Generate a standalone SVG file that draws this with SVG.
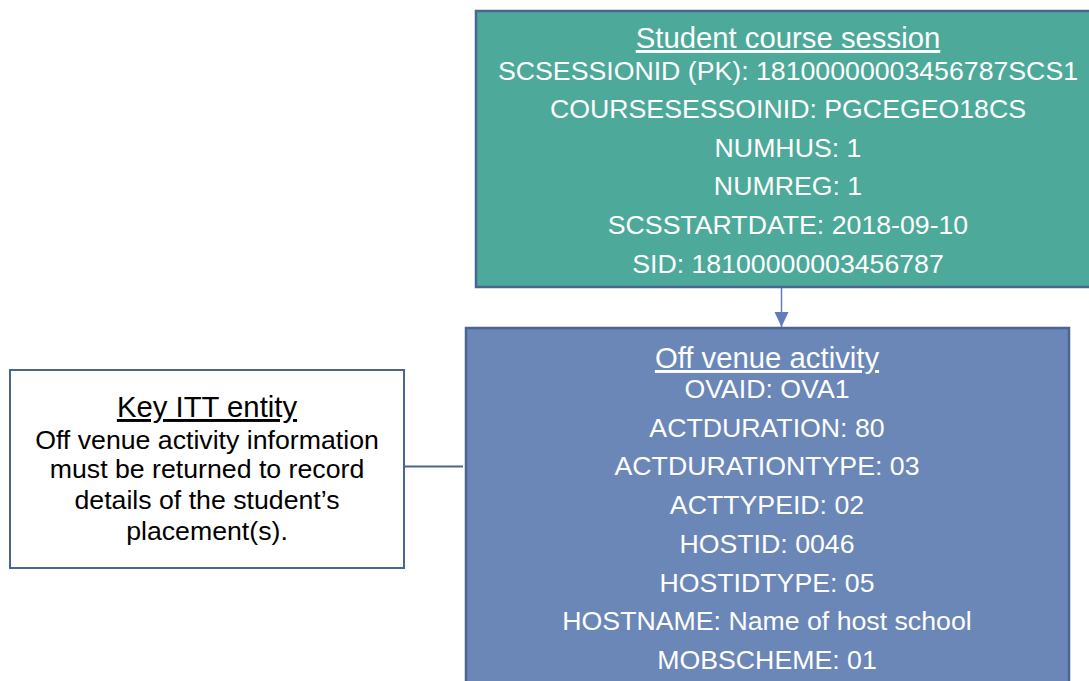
<svg xmlns="http://www.w3.org/2000/svg" width="1089" height="681" viewBox="0 0 1089 681">
<style>
text{font-family:"Liberation Sans",Arial,sans-serif;text-anchor:middle}
.t{font-size:29.3px;text-decoration:underline}
.b{font-size:26.7px}
.w{fill:#ffffff}
.k{fill:#000000}
</style>
<defs>
<marker id="ah" markerWidth="16" markerHeight="16" refX="15" refY="7" orient="auto" markerUnits="userSpaceOnUse">
<path d="M0,0 L15,7 L0,14 Z" fill="#5F7DB8"/>
</marker>
</defs>
<rect width="1089" height="681" fill="#ffffff"/>
<g id="connectors">
<line x1="781.5" y1="288" x2="781.5" y2="327" stroke="#5F7DB8" stroke-width="1.5" marker-end="url(#ah)"/>
<line x1="405" y1="466.5" x2="463" y2="466.5" stroke="#4A6590" stroke-width="2"/>
</g>
<g id="student-course-session">
<rect x="476" y="11" width="624" height="276" fill="#4DA99A" stroke="#4A6590" stroke-width="2.5"/>
<text class="t w" x="788" y="48">Student course session</text>
<text class="b w" x="788" y="80">SCSESSIONID (PK): 18100000003456787SCS1</text>
<text class="b w" x="788" y="118">COURSESESSOINID: PGCEGEO18CS</text>
<text class="b w" x="788" y="157">NUMHUS: 1</text>
<text class="b w" x="788" y="195">NUMREG: 1</text>
<text class="b w" x="788" y="234">SCSSTARTDATE: 2018-09-10</text>
<text class="b w" x="788" y="273">SID: 18100000003456787</text>
</g>
<g id="off-venue-activity">
<rect x="466" y="328" width="603" height="370" fill="#6A87B8" stroke="#4A6590" stroke-width="2.5"/>
<text class="t w" x="767" y="368">Off venue activity</text>
<text class="b w" x="767" y="398">OVAID: OVA1</text>
<text class="b w" x="767" y="437">ACTDURATION: 80</text>
<text class="b w" x="767" y="475">ACTDURATIONTYPE: 03</text>
<text class="b w" x="767" y="514">ACTTYPEID: 02</text>
<text class="b w" x="767" y="553">HOSTID: 0046</text>
<text class="b w" x="767" y="592">HOSTIDTYPE: 05</text>
<text class="b w" x="767" y="630">HOSTNAME: Name of host school</text>
<text class="b w" x="767" y="669">MOBSCHEME: 01</text>
</g>
<g id="key-itt-entity">
<rect x="10" y="370" width="394" height="198" fill="#ffffff" stroke="#4A6590" stroke-width="2"/>
<text class="t k" x="207" y="417">Key ITT entity</text>
<text class="b k" x="207" y="449">Off venue activity information</text>
<text class="b k" x="207" y="478">must be returned to record</text>
<text class="b k" x="207" y="509">details of the student’s</text>
<text class="b k" x="207" y="540">placement(s).</text>
</g>
</svg>
